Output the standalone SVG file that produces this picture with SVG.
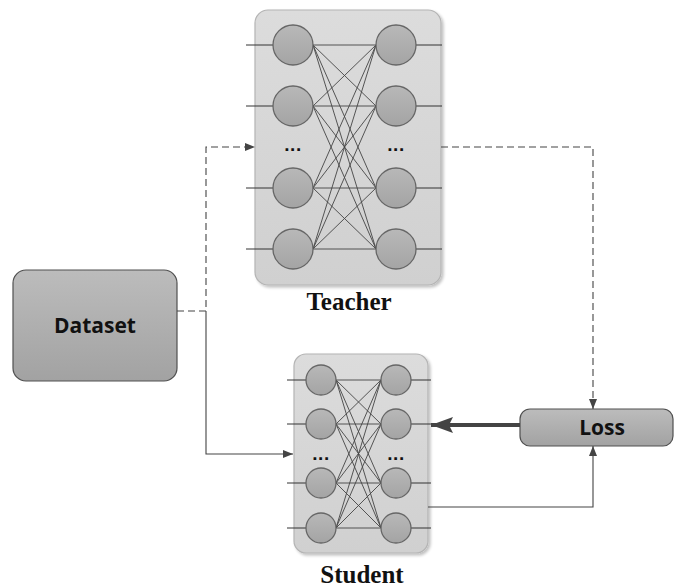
<svg xmlns="http://www.w3.org/2000/svg" width="676" height="587" viewBox="0 0 676 587">
  <defs>
    <linearGradient id="panel" x1="0" y1="0" x2="0" y2="1">
      <stop offset="0" stop-color="#dcdcdc"/>
      <stop offset="1" stop-color="#d0d0d0"/>
    </linearGradient>
    <linearGradient id="neuron" x1="0" y1="0" x2="0" y2="1">
      <stop offset="0" stop-color="#b8b8b8"/>
      <stop offset="1" stop-color="#a4a4a4"/>
    </linearGradient>
    <linearGradient id="block" x1="0" y1="0" x2="0" y2="1">
      <stop offset="0" stop-color="#bcbcbc"/>
      <stop offset="1" stop-color="#a2a2a2"/>
    </linearGradient>
    <filter id="shadow" x="-10%" y="-10%" width="125%" height="125%">
      <feGaussianBlur in="SourceAlpha" stdDeviation="1.5"/>
      <feOffset dx="2" dy="2" result="b"/>
      <feComponentTransfer><feFuncA type="linear" slope="0.25"/></feComponentTransfer>
      <feMerge><feMergeNode/><feMergeNode in="SourceGraphic"/></feMerge>
    </filter>
    <marker id="arr" viewBox="0 0 10 8" refX="10" refY="4" markerWidth="10" markerHeight="8" markerUnits="userSpaceOnUse" orient="auto">
      <path d="M0,0 L10,4 L0,8 Z" fill="#444"/>
    </marker>
    <marker id="arrBig" viewBox="0 0 22 16" refX="22" refY="8" markerWidth="22" markerHeight="16" markerUnits="userSpaceOnUse" orient="auto">
      <path d="M0,0 L22,8 L0,16 L4,8 Z" fill="#444"/>
    </marker>
    <style>
      .panel { fill: url(#panel); stroke: #b4b4b4; stroke-width: 1.2; }
      .neuron { fill: url(#neuron); stroke: #666; stroke-width: 1.3; }
      .wire { stroke: #333; stroke-width: 1; fill: none; }
      .edge { stroke: #444; stroke-width: 0.9; fill: none; }
      .block { fill: url(#block); stroke: #505050; stroke-width: 1.2; }
      .dots { font-family: "Liberation Sans", Arial, sans-serif; font-weight: bold; font-size: 19px; letter-spacing: 0.5px; fill: #111; text-anchor: middle; }
      .title { font-family: "Liberation Serif", "Times New Roman", serif; font-weight: bold; font-size: 25px; fill: #111; text-anchor: middle; }
      .label { font-family: "Open Sans", "Liberation Sans", sans-serif; font-weight: bold; font-size: 21px; fill: #111; text-anchor: middle; }
      .conn { stroke: #444; stroke-width: 1.1; fill: none; }
      .dash { stroke-dasharray: 7 4; }
      .thick { stroke: #444; stroke-width: 4; fill: none; }
    </style>
  </defs>

  <!-- Teacher network -->
  <g id="teacher">
    <rect class="panel" x="255" y="10" width="186" height="275" rx="13" filter="url(#shadow)"/>
    <!-- inputs / outputs -->
    <path class="wire" d="M246,45H273 M246,106H273 M246,188H273 M246,249H273 M416,45H442 M416,106H442 M416,188H442 M416,249H442"/>
    <!-- full connections between layers -->
    <g class="edge">
      <path d="M313,45L376,45 M313,45L376,106 M313,45L376,188 M313,45L376,249"/>
      <path d="M313,106L376,45 M313,106L376,106 M313,106L376,188 M313,106L376,249"/>
      <path d="M313,188L376,45 M313,188L376,106 M313,188L376,188 M313,188L376,249"/>
      <path d="M313,249L376,45 M313,249L376,106 M313,249L376,188 M313,249L376,249"/>
    </g>
    <circle class="neuron" cx="293" cy="45" r="20"/>
    <circle class="neuron" cx="293" cy="106" r="20"/>
    <circle class="neuron" cx="293" cy="188" r="20"/>
    <circle class="neuron" cx="293" cy="249" r="20"/>
    <circle class="neuron" cx="396" cy="45" r="20"/>
    <circle class="neuron" cx="396" cy="106" r="20"/>
    <circle class="neuron" cx="396" cy="188" r="20"/>
    <circle class="neuron" cx="396" cy="249" r="20"/>
    <text class="dots" x="293" y="151">...</text>
    <text class="dots" x="396" y="151">...</text>
    <text class="title" x="349" y="310">Teacher</text>
  </g>

  <!-- Student network -->
  <g id="student">
    <rect class="panel" x="294" y="354" width="134" height="199" rx="12" filter="url(#shadow)"/>
    <path class="wire" d="M287,380H306 M287,424H306 M287,483H306 M287,528H306 M411,380H431 M411,424H431 M411,483H431 M411,528H431"/>
    <g class="edge">
      <path d="M336,380L381,380 M336,380L381,424 M336,380L381,483 M336,380L381,528"/>
      <path d="M336,424L381,380 M336,424L381,424 M336,424L381,483 M336,424L381,528"/>
      <path d="M336,483L381,380 M336,483L381,424 M336,483L381,483 M336,483L381,528"/>
      <path d="M336,528L381,380 M336,528L381,424 M336,528L381,483 M336,528L381,528"/>
    </g>
    <circle class="neuron" cx="321" cy="380" r="15"/>
    <circle class="neuron" cx="321" cy="424" r="15"/>
    <circle class="neuron" cx="321" cy="483" r="15"/>
    <circle class="neuron" cx="321" cy="528" r="15"/>
    <circle class="neuron" cx="396" cy="380" r="15"/>
    <circle class="neuron" cx="396" cy="424" r="15"/>
    <circle class="neuron" cx="396" cy="483" r="15"/>
    <circle class="neuron" cx="396" cy="528" r="15"/>
    <text class="dots" x="321" y="460">...</text>
    <text class="dots" x="396" y="460">...</text>
    <text class="title" x="362" y="583">Student</text>
  </g>

  <!-- Dataset block -->
  <g id="dataset">
    <rect class="block" x="13" y="270" width="164" height="111" rx="13"/>
    <text class="label" x="95" y="333">Dataset</text>
  </g>

  <!-- Loss block -->
  <g id="loss">
    <rect class="block" x="520" y="409" width="153" height="37" rx="10"/>
    <text class="label" x="602" y="435">Loss</text>
  </g>

  <!-- Connectors -->
  <g id="connectors">
    <path class="conn dash" d="M177,311H206V147H255" marker-end="url(#arr)"/>
    <path class="conn" d="M206,311V454H293" marker-end="url(#arr)"/>
    <path class="conn dash" d="M441,147H593V409" marker-end="url(#arr)"/>
    <path class="conn" d="M428,507H593V446" marker-end="url(#arr)"/>
    <path class="thick" d="M520,425H431" marker-end="url(#arrBig)"/>
  </g>
</svg>
